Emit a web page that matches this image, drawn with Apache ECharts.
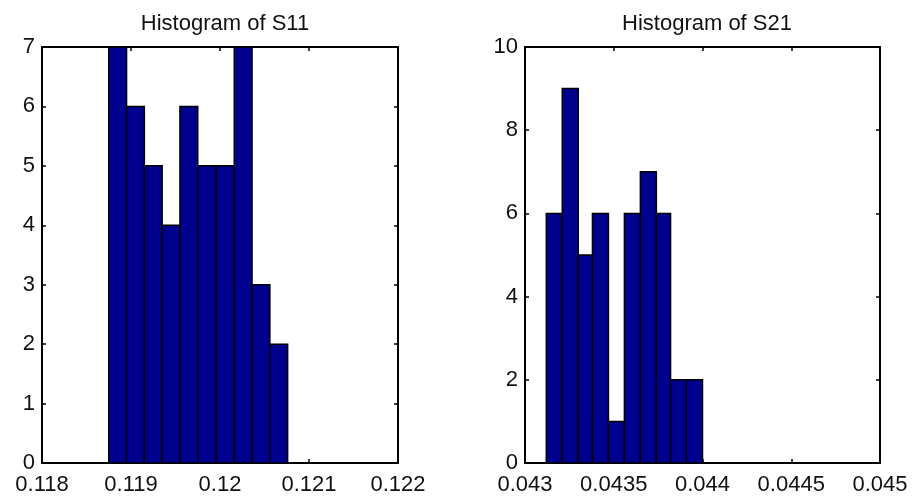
<!DOCTYPE html>
<html>
<head>
    <meta http-equiv="content-type" content="text/html;charset=utf-8" />
    <title>Histograms</title>
    <script src="https://cdn.jsdelivr.net/npm/echarts@6/dist/echarts.min.js"></script>
    <style>
        html, body { margin: 0; padding: 0; background: #fff; }
    </style>
</head>
<body>
    <div id="main" style="width: 912px;height:497px;"></div>
    <script type="text/javascript">
        // bin edges (11 edges -> 10 bins) and counts
        var s11Edges = [0.11875, 0.11895, 0.11915, 0.11935, 0.11955, 0.11975, 0.11996, 0.12016, 0.12036, 0.12056, 0.12076];
        var s11Counts = [7, 6, 5, 4, 6, 5, 5, 7, 3, 2];
        var s21Edges = [0.04312, 0.04321, 0.04330, 0.04338, 0.04347, 0.04356, 0.04365, 0.04374, 0.04382, 0.04391, 0.04400];
        var s21Counts = [6, 9, 5, 6, 1, 6, 7, 6, 2, 2];

        var s11XTicks = [0.118, 0.122, 0.001];   // min, max, step
        var s11YTicks = [0, 7, 1];
        var s21XTicks = [0.043, 0.045, 0.0005];
        var s21YTicks = [0, 10, 2];

        var font = 'Liberation Sans';
        var barColor = '#00008f';

        function bins(edges, counts) {
            var out = [];
            for (var i = 0; i < counts.length; i++) {
                out.push([edges[i], edges[i + 1], counts[i]]);
            }
            return out;
        }

        function renderBar(params, api) {
            var p0 = api.coord([api.value(0), api.value(2)]);
            var p1 = api.coord([api.value(1), 0]);
            return {
                type: 'rect',
                shape: { x: p0[0], y: p0[1], width: p1[0] - p0[0], height: p1[1] - p0[1] },
                style: { fill: barColor, stroke: '#000', lineWidth: 1.5 }
            };
        }

        function fmt(v) { return String(+(+v).toFixed(5)); }

        function xAxes(idx, t) {
            var base = {
                type: 'value', gridIndex: idx, min: t[0], max: t[1], interval: t[2],
                splitLine: { show: false },
                axisLine: { show: true, onZero: false, lineStyle: { color: '#000', width: 2 } },
                axisTick: { show: true, inside: true, length: 4, lineStyle: { color: '#000', width: 1.5 } }
            };
            return [
                Object.assign({}, base, { position: 'bottom',
                    axisLabel: { color: '#111', fontFamily: font, fontSize: 22, margin: 11, formatter: fmt } }),
                Object.assign({}, base, { position: 'top', axisLabel: { show: false } })
            ];
        }

        function yAxes(idx, t) {
            var base = {
                type: 'value', gridIndex: idx, min: t[0], max: t[1], interval: t[2],
                splitLine: { show: false },
                axisLine: { show: true, onZero: false, lineStyle: { color: '#000', width: 2 } },
                axisTick: { show: true, inside: true, length: 4, lineStyle: { color: '#000', width: 1.5 } }
            };
            return [
                Object.assign({}, base, { position: 'left',
                    axisLabel: { color: '#111', fontFamily: font, fontSize: 22, margin: 7 } }),
                Object.assign({}, base, { position: 'right', axisLabel: { show: false } })
            ];
        }

        var myChart = echarts.init(document.getElementById('main'));
        var option = {
            animation: false,
            backgroundColor: '#fff',
            title: [
                { text: 'Histogram of S11', left: 220, top: 8, textAlign: 'center',
                  textStyle: { fontFamily: font, fontSize: 22, fontWeight: 'normal', color: '#111' } },
                { text: 'Histogram of S21', left: 702, top: 8, textAlign: 'center',
                  textStyle: { fontFamily: font, fontSize: 22, fontWeight: 'normal', color: '#111' } }
            ],
            grid: [
                { left: 42, top: 47, width: 356, height: 416 },
                { left: 525, top: 47, width: 355, height: 416 }
            ],
            xAxis: xAxes(0, s11XTicks).concat(xAxes(1, s21XTicks)),
            yAxis: yAxes(0, s11YTicks).concat(yAxes(1, s21YTicks)),
            series: [
                { type: 'custom', name: 'S11', xAxisIndex: 0, yAxisIndex: 0,
                  renderItem: renderBar, encode: { x: [0, 1], y: 2 }, data: bins(s11Edges, s11Counts) },
                { type: 'custom', name: 'S21', xAxisIndex: 2, yAxisIndex: 2,
                  renderItem: renderBar, encode: { x: [0, 1], y: 2 }, data: bins(s21Edges, s21Counts) }
            ]
        };
        myChart.setOption(option);
    </script>
</body>
</html>
